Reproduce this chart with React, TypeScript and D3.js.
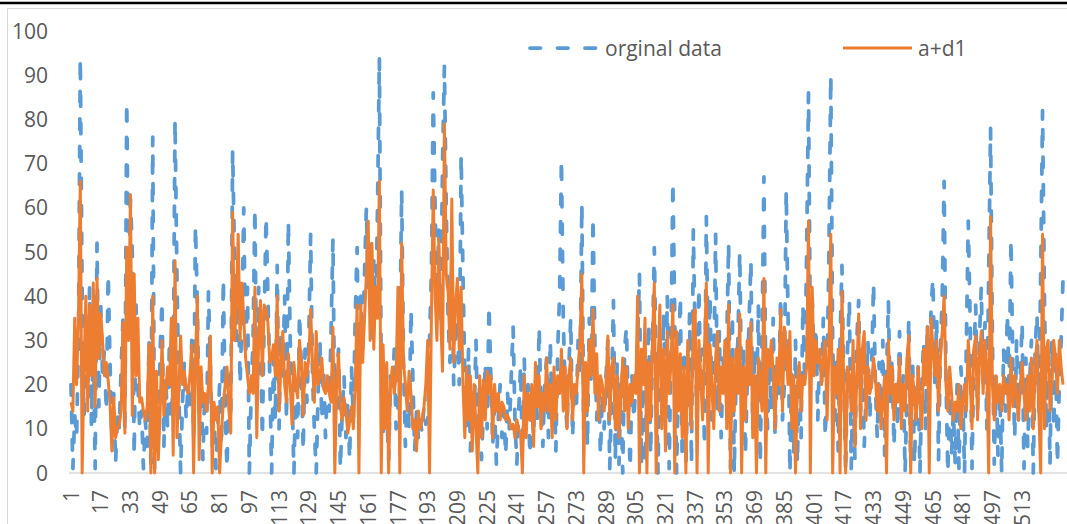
import React from 'react';
import * as d3 from 'd3';

// values, 16 per row (rows follow the axis labels 1, 17, 33 ...)
const orginalData = [
  20, 1, 13, 8, 30, 94, 40, 12, 35, 17, 42, 11, 30, 1, 52, 15,
  38, 22, 28, 14, 45, 25, 8, 18, 2, 14, 10, 24, 35, 9, 84, 40,
  62, 50, 4, 38, 20, 10, 14, 1, 12, 6, 30, 2, 76, 1, 18, 8,
  28, 39, 6, 22, 10, 30, 12, 20, 80, 45, 20, 0, 16, 25, 12, 20,
  14, 30, 8, 56, 38, 12, 22, 3, 18, 9, 41, 25, 6, 14, 1, 10,
  20, 6, 44, 14, 1, 22, 12, 73, 50, 30, 45, 20, 35, 60, 26, 42,
  0, 18, 30, 60, 15, 42, 30, 8, 35, 58, 40, 22, 0, 26, 12, 47,
  10, 32, 22, 40, 12, 57, 30, 18, 0, 20, 8, 36, 24, 5, 28, 16,
  30, 54, 22, 10, 0, 18, 30, 12, 24, 8, 20, 14, 32, 53, 10, 22,
  28, 1, 14, 22, 8, 16, 3, 24, 12, 35, 51, 20, 40, 28, 45, 60,
  42, 52, 30, 48, 35, 60, 94, 20, 8, 25, 14, 3, 22, 18, 28, 10,
  14, 30, 64, 25, 6, 18, 10, 37, 22, 5, 14, 8, 12, 9, 15, 11,
  12, 30, 45, 86, 60, 40, 55, 35, 70, 92, 60, 35, 25, 48, 20, 30,
  35, 20, 72, 45, 22, 10, 28, 5, 18, 12, 30, 8, 20, 3, 14, 25,
  10, 38, 22, 6, 15, 2, 12, 20, 8, 14, 4, 18, 10, 22, 33, 12,
  2, 14, 24, 5, 26, 10, 20, 4, 18, 8, 22, 12, 33, 15, 6, 20,
  26, 8, 30, 12, 22, 5, 28, 40, 71, 35, 18, 10, 24, 35, 8, 20,
  14, 30, 22, 61, 10, 25, 6, 35, 20, 58, 30, 12, 22, 4, 18, 10,
  22, 30, 1, 18, 39, 3, 25, 2, 20, 0, 28, 33, 14, 1, 22, 12,
  20, 30, 45, 2, 26, 2, 18, 34, 4, 28, 51, 22, 0, 30, 12, 36,
  16, 40, 1, 30, 66, 35, 0, 24, 40, 3, 28, 2, 20, 36, 2, 55,
  30, 10, 42, 18, 28, 6, 58, 25, 40, 12, 22, 54, 14, 32, 8, 26,
  18, 30, 52, 1, 36, 0, 22, 30, 50, 16, 28, 4, 20, 34, 48, 10,
  28, 14, 38, 2, 30, 67, 20, 10, 26, 14, 35, 8, 24, 18, 40, 12,
  20, 64, 35, 0, 24, 4, 30, 2, 22, 8, 38, 20, 50, 86, 30, 40,
  25, 33, 12, 28, 20, 35, 8, 22, 50, 90, 30, 10, 25, 5, 30, 47,
  20, 0, 28, 39, 1, 22, 3, 30, 39, 14, 25, 6, 18, 30, 12, 24,
  43, 20, 8, 25, 12, 30, 4, 22, 39, 15, 26, 6, 20, 10, 32, 14,
  22, 0, 18, 35, 2, 26, 2, 16, 24, 0, 20, 30, 10, 34, 18, 38,
  44, 20, 35, 3, 28, 40, 66, 22, 0, 18, 4, 14, 2, 20, 1, 24,
  18, 0, 30, 57, 35, 1, 26, 38, 14, 30, 42, 20, 34, 10, 45, 78,
  30, 2, 22, 4, 18, 0, 28, 14, 36, 20, 53, 24, 8, 30, 12, 22,
  34, 1, 26, 6, 20, 30, 0, 28, 36, 14, 45, 82, 40, 10, 28, 2,
  30, 10, 28, 2, 20, 30, 44,
];

const adData = [
  16, 14, 35, 20, 35, 66, 0, 24, 40, 14, 38, 22, 43, 15, 44, 26,
  36, 30, 22, 25, 21, 16, 5, 17, 8, 10, 11, 14, 34, 9, 51, 30,
  63, 13, 45, 22, 35, 16, 17, 14, 12, 15, 29, 0, 40, 0, 23, 3,
  14, 30, 13, 18, 24, 20, 35, 4, 48, 8, 18, 31, 20, 23, 19, 18,
  22, 29, 0, 25, 40, 3, 24, 16, 18, 14, 20, 31, 0, 16, 12, 15,
  0, 9, 16, 20, 24, 14, 9, 59, 30, 38, 54, 30, 43, 35, 26, 22,
  18, 22, 18, 42, 8, 30, 39, 22, 38, 37, 34, 25, 26, 29, 22, 40,
  14, 24, 32, 20, 16, 27, 20, 11, 25, 20, 17, 30, 25, 13, 25, 22,
  26, 37, 25, 16, 32, 20, 22, 26, 19, 18, 22, 18, 16, 33, 0, 20,
  27, 15, 12, 17, 14, 9, 12, 15, 10, 20, 38, 0, 38, 25, 35, 45,
  57, 30, 52, 28, 42, 35, 66, 0, 29, 10, 25, 0, 20, 24, 18, 22,
  42, 0, 52, 25, 20, 14, 23, 18, 10, 12, 5, 14, 10, 12, 15, 20,
  30, 0, 35, 64, 40, 30, 53, 35, 23, 79, 45, 41, 28, 62, 25, 38,
  44, 28, 42, 20, 8, 24, 12, 22, 5, 20, 10, 0, 22, 8, 21, 12,
  23, 18, 22, 8, 20, 14, 18, 12, 16, 15, 12, 13, 12, 10, 11, 8,
  12, 10, 9, 0, 22, 8, 18, 12, 20, 6, 25, 15, 22, 10, 18, 14,
  26, 14, 20, 8, 24, 12, 22, 18, 28, 14, 24, 10, 22, 26, 12, 20,
  18, 24, 30, 45, 0, 25, 14, 30, 22, 37, 18, 27, 12, 22, 20, 14,
  20, 31, 12, 24, 26, 10, 22, 8, 18, 26, 14, 24, 10, 20, 16, 22,
  18, 40, 0, 28, 20, 35, 0, 25, 12, 30, 43, 0, 24, 38, 10, 28,
  5, 32, 18, 25, 38, 0, 32, 14, 27, 8, 24, 0, 30, 18, 10, 36,
  37, 0, 30, 22, 12, 28, 43, 0, 29, 20, 10, 26, 32, 14, 24, 18,
  30, 10, 38, 0, 26, 14, 28, 18, 36, 0, 24, 12, 30, 20, 34, 8,
  22, 0, 26, 20, 14, 44, 0, 28, 24, 30, 22, 10, 26, 20, 37, 14,
  33, 28, 20, 32, 10, 22, 0, 20, 25, 14, 22, 20, 24, 57, 0, 42,
  22, 30, 25, 28, 20, 26, 30, 12, 28, 54, 0, 24, 18, 28, 0, 41,
  20, 0, 24, 22, 14, 30, 6, 22, 36, 10, 28, 32, 12, 24, 18, 20,
  26, 22, 14, 20, 10, 16, 22, 0, 30, 18, 24, 12, 20, 16, 26, 10,
  20, 14, 26, 31, 0, 22, 18, 12, 24, 16, 10, 28, 20, 33, 0, 35,
  28, 22, 30, 14, 26, 32, 40, 20, 14, 24, 18, 12, 16, 14, 20, 10,
  16, 20, 14, 30, 22, 10, 28, 31, 12, 26, 32, 18, 30, 24, 0, 58,
  20, 12, 22, 16, 20, 14, 22, 18, 20, 12, 26, 15, 22, 18, 12, 20,
  25, 18, 12, 22, 14, 26, 10, 24, 30, 14, 0, 54, 10, 28, 30, 14,
  20, 30, 26, 18, 30, 24, 20,
];

const categories = orginalData.map((_, i) => i + 1);
const tickLabels = [
  '1', '17', '33', '49', '65', '81', '97', '113', '129', '145', '161', '177', '193',
  '209', '225', '241', '257', '273', '289', '305', '321', '337', '353', '369', '385',
  '401', '417', '433', '449', '465', '481', '497', '513',
];
const yTicks = [0, 10, 20, 30, 40, 50, 60, 70, 80, 90, 100];
const seriesNames = ['orginal data', 'a+d1'];

const W = 1067;
const H = 524;
const font = '"Open Sans", "Noto Sans", sans-serif';
const textColor = '#595959';
const blue = '#5B9BD5';
const orange = '#ED7D31';

export default function App() {
  const x = d3.scaleLinear().domain([1, categories.length]).range([71, 1063]);
  const y = d3.scaleLinear().domain([0, 100]).range([473, 31]);

  const line = d3.line<number>()
    .x((_, i) => x(categories[i]))
    .y((d) => y(d));

  return (
    <svg width={W} height={H} style={{ position: 'absolute', left: 0, top: 0, background: '#fff' }}>
      {/* frame */}
      <line x1={0} x2={W} y1={3} y2={3} stroke="#000" strokeWidth={2.5} />
      <path d={`M7.5,${H}V8.5H${W}`} fill="none" stroke="#d9d9d9" strokeWidth={1} />

      {/* y axis labels */}
      {yTicks.map((t) => (
        <text key={t} x={48} y={y(t)} dy="0.36em" textAnchor="end"
          fontFamily={font} fontSize={21} fill={textColor}>{t}</text>
      ))}

      {/* baseline */}
      <line x1={69} x2={W} y1={y(0)} y2={y(0)} stroke="#d9d9d9" strokeWidth={1.5} />

      {/* x axis labels */}
      {tickLabels.map((t) => (
        <text key={t} transform={`translate(${x(+t)},490) rotate(-90)`} dy="0.36em"
          textAnchor="end" fontFamily={font} fontSize={21} fill={textColor}>{t}</text>
      ))}

      {/* series */}
      <path d={line(orginalData) || ''} fill="none" stroke={blue} strokeWidth={3.75}
        strokeDasharray="10.5 17" strokeLinecap="round" strokeLinejoin="round" />
      <path d={line(adData) || ''} fill="none" stroke={orange} strokeWidth={3}
        strokeLinejoin="round" />

      {/* legend */}
      <line x1={530} x2={597} y1={48} y2={48} stroke={blue} strokeWidth={3.75}
        strokeDasharray="10.5 17" strokeLinecap="round" />
      <text x={605} y={48} dy="0.36em" fontFamily={font} fontSize={21} fill={textColor}>{seriesNames[0]}</text>
      <line x1={843} x2={912} y1={48} y2={48} stroke={orange} strokeWidth={3} />
      <text x={918} y={48} dy="0.36em" fontFamily={font} fontSize={21} fill={textColor}>{seriesNames[1]}</text>
    </svg>
  );
}
